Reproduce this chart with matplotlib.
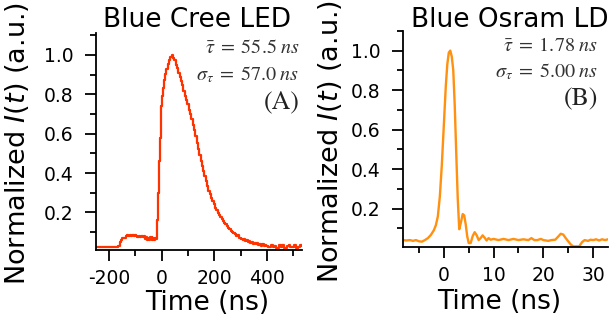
import matplotlib
matplotlib.use("Agg")
import matplotlib.pyplot as plt
from matplotlib.ticker import MultipleLocator

# ---- Data ----
# Blue Cree LED: baseline/shoulder, rise, decay, tail
led_t = [-250, -230, -210, -190, -170, -163, -158, -154, -150, -145,
         -140, -135, -130, -125, -120, -115, -110, -105, -100, -95,
         -90, -85, -80, -75, -70, -65, -60, -57, -54, -50,
         -47, -44, -40, -37, -34, -30, -27, -24, -21, -18,
         -15, -12, -9, -6, -3, 0, 3, 6, 10, 15, 20, 25, 30, 35, 40,
         45, 50, 55, 60, 65, 70, 75, 80, 85, 90,
         95, 100, 105, 110, 115, 120, 125, 130, 135, 140,
         145, 150, 155, 160, 165, 170, 175, 180, 185, 190,
         195, 200, 205, 210, 215, 220, 225, 230, 235, 240,
         245, 250, 255, 260, 265, 270, 275, 280, 285, 290,
         295, 300, 305, 310, 315, 320, 325, 330, 335, 340,
         345, 350, 355, 360, 365, 370, 375, 380, 385, 390,
         395, 400,
         410, 420, 425, 430, 440, 450, 455, 460, 470, 480,
         485, 490, 500, 510, 515, 520, 530, 535]
led_I = [0.024, 0.024, 0.024, 0.024, 0.024, 0.030, 0.048, 0.062, 0.068, 0.072,
         0.070, 0.080, 0.086, 0.080, 0.086, 0.082, 0.086, 0.080, 0.084, 0.080,
         0.078, 0.082, 0.078, 0.080, 0.076, 0.080, 0.066, 0.078, 0.062, 0.072,
         0.060, 0.074, 0.064, 0.076, 0.060, 0.072, 0.062, 0.070, 0.064, 0.070,
         0.16, 0.30, 0.46, 0.58, 0.68, 0.74, 0.79, 0.83, 0.87, 0.905, 0.93, 0.955, 0.975, 0.99, 1.0,
         0.985, 0.975, 0.95, 0.935, 0.91, 0.89, 0.865, 0.845, 0.815, 0.79,
         0.77, 0.75, 0.72, 0.70, 0.675, 0.645, 0.62, 0.59, 0.555, 0.52,
         0.49, 0.46, 0.435, 0.41, 0.385, 0.36, 0.335, 0.31, 0.295, 0.275,
         0.26, 0.245, 0.225, 0.215, 0.195, 0.185, 0.175, 0.165, 0.155, 0.145,
         0.14, 0.13, 0.12, 0.115, 0.105, 0.10, 0.095, 0.09, 0.08, 0.085,
         0.07, 0.072, 0.065, 0.06, 0.066, 0.056, 0.06, 0.05, 0.055, 0.046,
         0.05, 0.042, 0.047, 0.04, 0.044, 0.036, 0.042, 0.032, 0.04, 0.03,
         0.036, 0.028,
         0.024, 0.036, 0.024, 0.030, 0.022, 0.034, 0.024, 0.036, 0.022, 0.028,
         0.036, 0.024, 0.026, 0.034, 0.022, 0.026, 0.036, 0.030]

# Blue Osram LD
ld_t = [-8.2, -7.5, -6.8, -6.2, -5.6, -5.0, -4.4, -3.8, -3.2, -2.6, -2.0,
        -1.6, -1.2, -0.8, -0.4, 0.0, 0.4, 0.7, 1.0, 1.3, 1.6,
        1.9, 2.2, 2.5, 2.8, 3.1, 3.4, 3.8, 4.1, 4.4, 4.7,
        5.0, 5.4, 5.8, 6.2, 6.6, 7.0, 7.4, 7.8, 8.2, 8.6,
        9.0, 9.4, 10.0, 11.0, 12.0, 13.0, 14.0, 15.0, 16.0, 17.0,
        17.6, 18.2, 18.8, 19.5, 20.0, 21.0, 21.6, 22.4, 23.0, 23.5,
        24.0, 24.5, 25.0, 25.5, 26.0, 26.5, 27.2, 27.8, 28.3, 29.0,
        29.5, 30.0, 30.6, 31.2, 31.8, 32.4, 33.0]
ld_I = [0.040, 0.038, 0.040, 0.036, 0.040, 0.034, 0.032, 0.040, 0.050, 0.066, 0.090,
        0.115, 0.16, 0.26, 0.42, 0.62, 0.82, 0.93, 0.99, 1.0, 0.97,
        0.90, 0.72, 0.48, 0.25, 0.095, 0.125, 0.172, 0.165, 0.12, 0.06,
        0.025, 0.025, 0.060, 0.080, 0.065, 0.040, 0.050, 0.064, 0.052, 0.038,
        0.050, 0.042, 0.046, 0.040, 0.046, 0.040, 0.046, 0.040, 0.044, 0.040,
        0.050, 0.040, 0.040, 0.046, 0.040, 0.036, 0.040, 0.042, 0.058, 0.072,
        0.068, 0.050, 0.034, 0.018, 0.008, 0.008, 0.008, 0.030, 0.040, 0.036,
        0.042, 0.040, 0.044, 0.038, 0.044, 0.040, 0.044]

titles = ["Blue Cree LED", "Blue Osram LD"]
stats = [(r"$\bar{\tau}\;=\;55.5\;ns$", r"$\sigma_\tau\;=\;57.0\;ns$", "(A)"),
         (r"$\bar{\tau}\;=\;1.78\;ns$", r"$\sigma_\tau\;=\;5.00\;ns$", "(B)")]
colors = ["#FF3300", "#FF9010"]

plt.rcParams["font.family"] = ["DejaVu Sans"]
plt.rcParams["mathtext.fontset"] = "stix"
plt.rcParams["axes.unicode_minus"] = False

fig = plt.figure(figsize=(6.12, 3.25), dpi=100)
ax1 = fig.add_axes([0.157, 0.231, 0.337, 0.667])
ax2 = fig.add_axes([0.6585, 0.240, 0.335, 0.665])

ax1.plot(led_t, led_I, color=colors[0], lw=1.6, drawstyle="steps-mid")
ax2.plot(ld_t, ld_I, color=colors[1], lw=1.7)

ax1.set_xlim(-250, 535)
ax1.set_ylim(0.01, 1.11)
ax2.set_xlim(-8.2, 33)
ax2.set_ylim(0.005, 1.10)

ax1.xaxis.set_major_locator(MultipleLocator(200))
ax1.xaxis.set_minor_locator(MultipleLocator(100))
ax2.xaxis.set_major_locator(MultipleLocator(10))
ax2.xaxis.set_minor_locator(MultipleLocator(5))

# per-panel placement (axes fractions)
text_x = [0.985, 0.95]
title_y = [1.028, 1.018]
title_x = [0.49, 0.52]
xlabel_pos = [(0.54, -0.185), (0.47, -0.195)]
ylabel_x = [-0.315, -0.29]

for i, (ax, title, st) in enumerate(zip([ax1, ax2], titles, stats)):
    ax.yaxis.set_minor_locator(MultipleLocator(0.1))
    ax.set_yticks([0.2, 0.4, 0.6, 0.8, 1.0])
    ax.set_yticklabels(["0.2", "0.4", "0.6", "0.8", "1.0"])
    for s in ["top", "right"]:
        ax.spines[s].set_visible(False)
    for s in ["left", "bottom"]:
        ax.spines[s].set_linewidth(1.3)
    ax.tick_params(which="major", direction="out", length=8, width=1.3,
                   labelsize=13.5, pad=8)
    ax.tick_params(axis="x", which="major", pad=6)
    ax.tick_params(which="minor", direction="out", length=4, width=1.3)
    ax.set_xlabel("Time (ns)", fontsize=19)
    ax.xaxis.set_label_coords(*xlabel_pos[i])
    ax.set_ylabel(r"Normalized $\mathit{I}$($\mathit{t}$) (a.u.)", fontsize=19.5,
                  math_fontfamily="dejavusans")
    ax.yaxis.set_label_coords(ylabel_x[i], 0.49)
    ax.text(title_x[i], title_y[i], title, transform=ax.transAxes, ha="center",
            va="baseline", fontsize=19)
    ax.text(text_x[i], 0.908, st[0], transform=ax.transAxes, ha="right",
            va="baseline", fontsize=14.5, color="#333333")
    ax.text(text_x[i], 0.783, st[1], transform=ax.transAxes, ha="right",
            va="baseline", fontsize=14.5, color="#333333")
    ax.text(text_x[i], 0.654, st[2], transform=ax.transAxes, ha="right",
            va="baseline", fontsize=18.5, family="STIXGeneral", color="#222222")

fig.savefig("out.png", dpi=100)
